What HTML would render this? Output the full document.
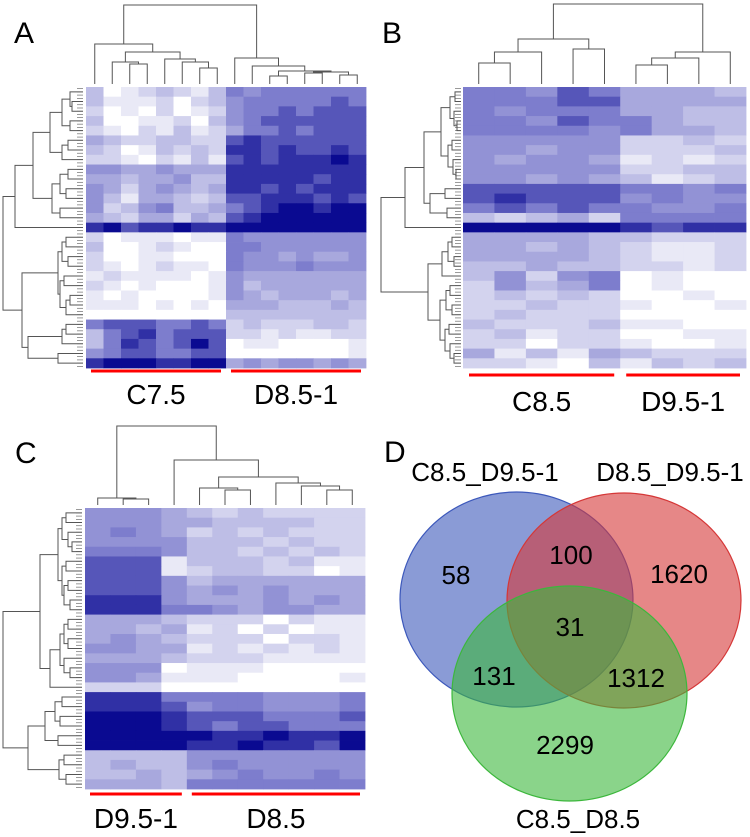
<!DOCTYPE html>
<html><head><meta charset="utf-8"><style>
html,body{margin:0;padding:0;background:#fff;}
svg{display:block;font-family:"Liberation Sans",Arial,sans-serif;}
</style></head><body>
<svg id="fig" width="750" height="837" viewBox="0 0 750 837">
<g id="gA"></g>
<g id="gB"></g>
<g id="gC"></g>
<g id="gD">
  <ellipse cx="516.5" cy="599.5" rx="116.5" ry="107.5" fill="#3c58bb" fill-opacity="0.6" stroke="#3c58bb" stroke-width="1.2"/>
  <ellipse cx="624" cy="600.5" rx="117" ry="107.5" fill="#d53737" fill-opacity="0.6" stroke="#d53737" stroke-width="1.2"/>
  <ellipse cx="569.5" cy="693.5" rx="117.5" ry="107.5" fill="#3cb73c" fill-opacity="0.6" stroke="#3cb73c" stroke-width="1.2"/>
  <g font-size="26" text-anchor="middle" fill="#000">
    <text x="485" y="481">C8.5_D9.5-1</text>
    <text x="670" y="481">D8.5_D9.5-1</text>
    <text x="578" y="828">C8.5_D8.5</text>
  </g>
  <g font-size="26" text-anchor="middle" fill="#000">
    <text x="456" y="584">58</text>
    <text x="571" y="564">100</text>
    <text x="679" y="583">1620</text>
    <text x="570" y="636">31</text>
    <text x="494" y="685">131</text>
    <text x="636" y="687">1312</text>
    <text x="565" y="754">2299</text>
  </g>
</g>
<g font-size="30" fill="#000">
  <text x="14" y="43">A</text>
  <text x="382" y="43">B</text>
  <text x="15" y="463">C</text>
  <text x="384" y="462">D</text>
</g>
</svg>
<script>
// ---- data: intensity 0 (white) .. 9 (dark navy), one string per row band ----
const rowsA = [
"3012321365666666","3111202356666676","2010201256676777","3001120356777777","2102131246676777",
"4322332278777777","3201323288787787","2210213178788898","5544544488888888","4434453388888788",
"5424543488787888","5314432377888787","5235633467899899","4324424378999999","8978898899999999",
"2011101165555555","3001210066555555","2001100065545445","2101211065556555","1211110154444444",
"2101000153444444","1010000154344434","1110101044433343","0000000033333333","6777667623222332",
"3678677722121122","3687679701100001","5677667700000001","8999889945455454"];
const rowsB = [
"665764443","666774444","656664433","665766433","666656443","555552232","554552223","545541212",
"555552233","554543123","777776656","787775655","676766556","323426666","999998788","444433222",
"443432112","444432112","334332212","352560100","253460100","232320010","223221001","232220000",
"322231100","231220011","220221001","413143222","221031323"];
const rowsC = [
"55543232222","55544333322","56542323222","55553332322","66653323232","77713332311","77712332201",
"77753444444","77754545444","88854445454","88866545544","44432220211","44341202011","45432220221",
"55441212121","44432221111","55501110000","55411100001","22200000000","88866665556","88875665556",
"99987776667","99987677666","99999889889","99998898879","33335555555","34335655555","33434565565",
"44436666666"];
const groupLabelsA = ["C7.5","D8.5-1"];
const groupLabelsB = ["C8.5","D9.5-1"];
const groupLabelsC = ["D9.5-1","D8.5"];
// column dendrograms: [joinY, left, right], leaves = column index
const colTreeA = [5,[44,0,[52,[62,1,[64,2,3]],[59,4,[62,5,[68,6,7]]]]],[58,8,[66,9,[71,[76,10,11],[72,[73,12,13],[75,14,15]]]]]];
const colTreeB = [4,[39,[52,[63,0,1],2],[49,3,4]],[52,[58,[65,5,6],7],8]];
const colTreeC = [426,[498,0,[499,1,2]],[460,3,[477,[488,4,[490,5,6]],[483,7,[486,8,[490,9,10]]]]]];
// row dendrograms: [joinX, top, bottom], leaves = row index
const rowTreeA = [3,[15,[33,[50,[62,[70,0,[72,1,2]],[70,3,4]],[62,[68,5,6],7]],[52,[60,[68,8,9],[66,10,11]],[60,12,13]]],14],
  [22,[58,[62,[66,15,16],[68,17,18]],[60,[64,19,20],[66,[70,21,22],23]]],[28,[62,[66,24,25],26],[58,27,28]]]];
const rowTreeB = [381,[405,[424,[441,[450,[455,0,1],[454,2,[457,3,4]]],[448,[452,5,6],[453,7,[456,8,9]]]],[430,[445,10,11],[447,12,13]]],14],
  [428,[442,[448,[452,15,16],[454,17,18]],19],[440,[446,[450,20,21],[452,22,23]],[445,[449,24,25],[450,26,[454,27,28]]]]]];
const rowTreeC = [3,[40,[58,[62,[66,0,1],[68,2,[72,3,4]]],[62,[66,5,6],[64,[68,7,8],[70,9,10]]]],[50,[60,[64,[68,11,12],[68,13,14]],[64,15,[70,16,17]]],18]],
  [28,[45,[55,[62,19,20],[60,21,22]],[58,23,24]],[59,[64,25,26],[66,27,28]]]];

const NS="http://www.w3.org/2000/svg";
function colorOf(v){
  let r,g,b;
  if(v<=6){const t=v/6;r=255+(125-255)*t;g=255+(125-255)*t;b=255+(205-255)*t;}
  else{const t=(v-6)/3;r=125+(10-125)*t;g=125+(10-125)*t;b=205+(145-205)*t;}
  return `rgb(${r|0},${g|0},${b|0})`;
}
function mk(tag,attrs,parent){const e=document.createElementNS(NS,tag);for(const k in attrs)e.setAttribute(k,attrs[k]);parent.appendChild(e);return e;}

function drawPanel(g,rows,cfg){
  const nR=rows.length,nC=rows[0].length;
  const cw=(cfg.x1-cfg.x0)/nC, rh=(cfg.y1-cfg.y0)/nR;
  const xs=c=>cfg.x0+cw*(c+0.5), ys=r=>cfg.y0+rh*(r+0.5);
  for(let r=0;r<nR;r++)for(let c=0;c<nC;c++){
    const v=+rows[r][c];
    const cell=mk('rect',{x:(cfg.x0+cw*c).toFixed(2),y:(cfg.y0+rh*r).toFixed(2),width:(cw+0.4).toFixed(2),height:(rh+0.4).toFixed(2),fill:colorOf(v)},g);
    
    
  }
  const dg=mk('g',{stroke:'#555','stroke-width':1,fill:'none'},g);
  
  
  function colNode(n){
    if(typeof n==='number'){return {x:xs(n),y:cfg.leafY};}
    const a=colNode(n[1]),b=colNode(n[2]),y=n[0];
    mk('path',{d:`M${a.x},${a.y}V${y}H${b.x}V${b.y}`},dg);
    return {x:(a.x+b.x)/2,y:y};
  }
  colNode(cfg.colTree);
  function rowNode(n){
    if(typeof n==='number'){return {x:cfg.leafX,y:ys(n)};}
    const a=rowNode(n[1]),b=rowNode(n[2]),x=n[0];
    mk('path',{d:`M${a.x},${a.y}H${x}V${b.y}H${b.x}`},dg);
    return {x:x,y:(a.y+b.y)/2};
  }
  rowNode(cfg.rowTree);
  for(let i=0;i<nR*3;i++){
    const yy=cfg.y0+(cfg.y1-cfg.y0)*(i+0.5)/(nR*3);
    mk('line',{x1:cfg.leafX-6,x2:cfg.leafX,y1:yy,y2:yy,'stroke-width':0.6},dg);
  }
  let start=0;
  cfg.groups.forEach((n,i)=>{
    const a=cfg.x0+cw*start+cfg.pad, b=cfg.x0+cw*(start+n)-cfg.pad;
    const bar=mk('rect',{x:a,y:cfg.barY,width:b-a,height:3,fill:'#ff0000'},g);
    
    
    const t=mk('text',{x:(a+b)/2,y:cfg.labelY,'font-size':28,'text-anchor':'middle',fill:'#000'},g);
    t.textContent=cfg.labels[i];
    
    
    start+=n;
  });
}
drawPanel(document.getElementById('gA'),rowsA,{x0:86,x1:366,y0:87,y1:368,leafY:84,leafX:83,colTree:colTreeA,rowTree:rowTreeA,groups:[8,8],labels:groupLabelsA,pad:5,barY:369.5,labelY:404});
drawPanel(document.getElementById('gB'),rowsB,{x0:463,x1:746,y0:87,y1:368,leafY:84,leafX:461,colTree:colTreeB,rowTree:rowTreeB,groups:[5,4],labels:groupLabelsB,pad:6,barY:373.5,labelY:411});
drawPanel(document.getElementById('gC'),rowsC,{x0:85,x1:365,y0:508,y1:789,leafY:505,leafX:82,colTree:colTreeC,rowTree:rowTreeC,groups:[4,7],labels:groupLabelsC,pad:5,barY:792.5,labelY:828});
</script>
</body></html>
